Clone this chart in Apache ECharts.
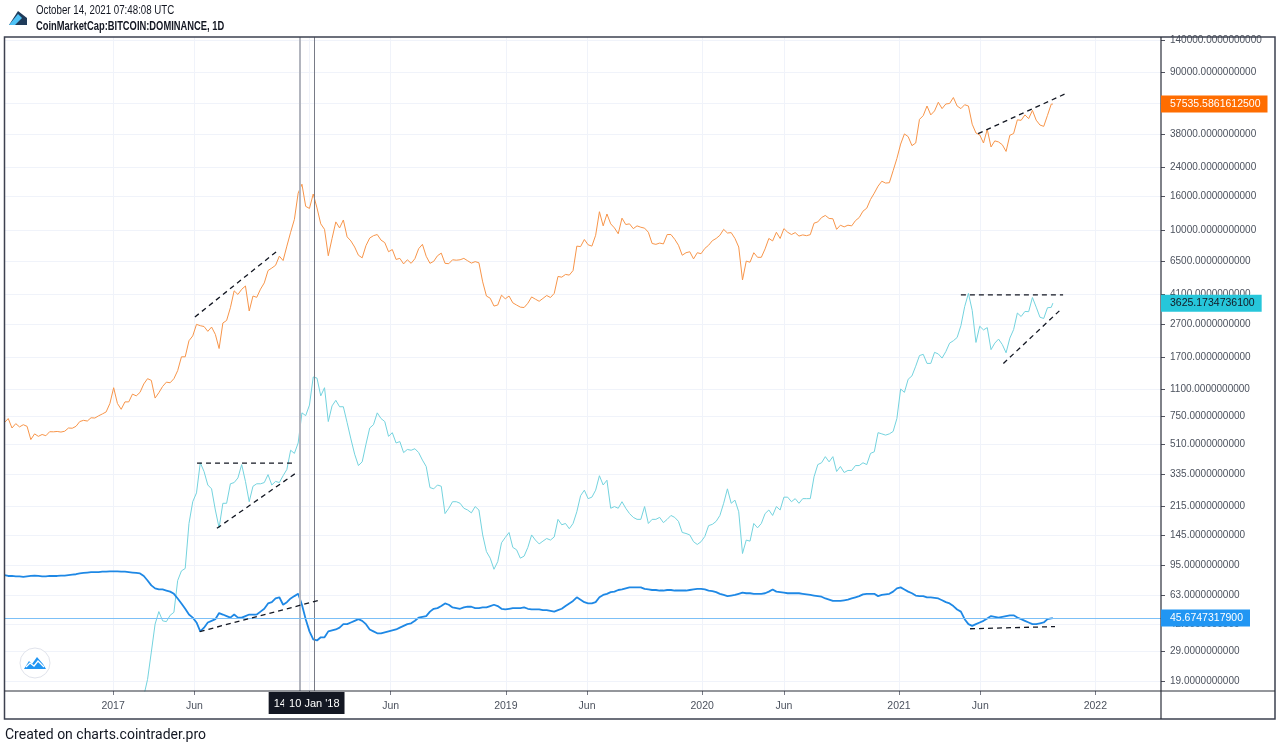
<!DOCTYPE html>
<html><head><meta charset="utf-8">
<script src="https://cdn.jsdelivr.net/npm/echarts@6/dist/echarts.min.js"></script>
<style>html,body{margin:0;padding:0;background:#fff;}#chart{width:1280px;height:748px;}</style>
</head><body><div id="chart"></div>
<script>
// ---------- DATA (weekly samples, Mondays) ----------
const yearStarts = ['2016-06-13','2017-01-02','2018-01-01','2019-01-07','2020-01-06','2021-01-04'];
const btc2016 = [690,730,640,680,650,670,655,545,590,570,585,575,608,607,610,605,612,640,638,655,700,712,705,738,735,758,778,800,900];
const btc2017 = [1120,900,830,920,920,1025,1000,1050,1180,1270,1240,970,1045,1140,1210,1200,1270,1420,1720,1720,2150,2300,2700,2650,2620,2450,2600,2350,1930,2750,2850,3400,4300,4090,4390,4600,3250,4000,3930,4400,4800,5700,5900,6130,6960,6550,8000,9700,11600,16700,18900,13900];
const btc2018 = [13500,16500,13600,10900,10100,7000,8900,11200,10300,11500,9100,8600,7900,7050,6800,8050,8950,9250,9400,8700,8400,7400,7630,6650,6750,6250,6620,6300,6720,7720,8200,6950,6300,6480,7000,7260,6300,6270,6620,6580,6620,6750,6530,6320,6450,6350,4870,4000,3880,3480,3530,4050,3850];
const btc2019 = [4000,3640,3530,3430,3410,3620,3950,3830,3720,3870,4030,3920,4150,5250,5200,5400,5350,5700,8000,7950,8770,8150,8000,9300,12900,10600,12500,10900,10300,9500,11800,10800,10900,10200,10600,10400,10270,9700,8300,8200,8350,8250,9400,9400,8800,8100,7050,7300,7400,6700,7300,7200];
const btc2020 = [7750,8100,8630,8900,9300,10100,9600,9650,8900,7900,5000,6500,6400,7300,6850,6850,7700,8900,8600,9700,8900,10200,9700,9400,9650,9200,9350,9250,9380,11000,11200,11900,12250,11750,11700,10100,10700,10450,10700,10600,11400,11900,13000,13550,15300,16700,18400,19700,19200,19300,22800,27000];
const btc2021 = [33000,38000,36600,32300,33500,46500,49000,56000,49500,52300,59000,54000,57600,58000,63000,56000,54000,57000,56000,43500,38500,37500,33500,40500,31700,34500,34000,32700,29800,37300,38200,46200,45900,49500,47000,52700,46000,43000,42200,49200,57500];

const eth2017 = [9.7,10.3,9.7,10.7,10.7,11.3,12.9,12.7,15.5,19.5,28.5,42,50,44,43.5,47.5,49.5,77,88,91,170,230,260,395,350,290,275,205,160,225,225,295,300,320,385,305,230,285,295,295,300,335,290,305,300,330,360,470,450,520,790,760];
const eth2018 = [880,1300,1280,1000,1120,700,870,940,860,860,690,550,445,380,400,510,640,670,790,730,700,570,600,520,530,455,475,470,480,455,410,375,280,275,290,285,195,210,230,230,225,210,205,197,215,205,145,115,105,90,100,130,140];
const eth2019 = [150,122,118,105,108,122,145,135,128,133,138,135,141,180,167,170,158,170,200,250,270,240,245,270,330,290,310,210,215,210,230,210,195,185,180,180,215,170,180,180,185,172,180,190,185,175,150,148,145,132,127,132];
const eth2020 = [142,165,168,175,190,225,275,225,235,200,112,135,133,170,160,170,195,205,190,215,205,245,245,230,240,225,240,240,240,325,385,395,430,400,430,350,375,345,355,355,380,380,395,385,450,460,600,590,580,590,610,730];
const eth2021 = [1100,1050,1260,1320,1510,1750,1780,1570,1570,1830,1790,1690,1850,2080,2150,2250,2650,3450,4150,3280,2100,2630,2500,2580,1900,2080,2200,2040,1820,2230,2510,3160,3010,3230,3220,3920,3430,2980,2930,3400,3420];

const dom2016 = [83,82,82,81.5,81.5,81,81.5,82,82.5,82,81.5,81.5,82,82,82,82.5,82.5,83,83.5,84,85,85.5,86,86.5,86.5,86.5,87,87,87.5];
const dom2017 = [87.5,87.5,87,87,86.5,86,85.5,85,82,77,72,69,68,68,67,66,64,60,56,52,48,46,43,38,40,43,44,45,49,48,47,46,48,46,46,47,48,48,48,50,52,56,57,60,61,55,57,60,62,64,55,45];
const dom2018 = [38,34,33.5,35,35,38,38.5,39,40,42,42,43,44,45,44,42,39,38,37,37,37.5,38,38.5,39,40,41,42,42.5,44,46,46.5,47,50,52,52.5,54,56,55,53,52.5,52,53,53.5,53.5,52.5,52.5,53,53,54,55,54,52,51.5];
const dom2019 = [52,52.5,52.5,52.5,53,52,51.5,51.5,51.5,51,51,50.5,50,51,52,54,56,58,61,59,57,56,56,57,61,63,64,65.5,66,67.5,68,69,70,70,70,70,68.5,68,67.5,67.5,67,67,67.5,67.5,67,67,67,67,67.5,68,68.5,68.5];
const dom2020 = [68,67,66.5,65.5,64,63,62,62.5,63,64,65,64.5,64.5,64,64,64,64.5,66,68,66,65.5,65,64.5,64.5,64.5,64.5,64,63.5,63,62.5,62,61.5,60,59,58,58,58,58.5,59,60,61,62,63.5,64,64,64,62,63,63.5,64,66,69];
const dom2021 = [70,68,66,64.5,62.5,62,62,61,61,60.5,60,58.5,57,56,54,51.5,50,45,42,41,42,43,44,45.5,47,46.5,46,46.5,47,47.5,47.5,46,45,44,43,42,42,42.5,43,45,45.5];

const lastDate = '2021-10-14';
const btcLast = 57535.5861612500;
const ethLast = 3625.1734736100;
const domLast = 45.6747317900;

// trend lines drawn on the chart (date, value)
const trendBtc2017    = [['2017-06-02', 2990], ['2017-11-02', 7470]];
const trendEthTop2017 = [['2017-06-06', 393],  ['2017-12-01', 393]];
const trendEthLow2017 = [['2017-07-13', 159],  ['2017-12-05', 339]];
const trendDom2017    = [['2017-06-11', 37.9], ['2018-01-21', 58.7]];
const trendBtc2021    = [['2021-05-28', 38150],['2021-11-10', 67230]];
const trendEthTop2021 = [['2021-04-26', 4067], ['2021-11-02', 4067]];
const trendEthLow2021 = [['2021-07-14', 1569], ['2021-10-26', 3256]];
const trendDom2021    = [['2021-05-13', 39.4], ['2021-10-18', 40.6]];

const crossDates  = ['2017-12-14', '2018-01-10'];
const crossLabels = ["14 Dec '17", "10 Jan '18"];

const xTickDates  = ['2017-01-01','2017-06-01','2018-01-01','2018-06-01','2019-01-01','2019-06-01','2020-01-01','2020-06-01','2021-01-01','2021-06-01','2022-01-01'];
const xTickLabels = ['2017','Jun','2018','Jun','2019','Jun','2020','Jun','2021','Jun','2022'];
const yTicks = [140000,90000,58000,38000,24000,16000,10000,6500,4100,2700,1700,1100,750,510,335,215,145,95,63,42,29,19];

const X_MIN = '2016-06-14', X_MAX = '2022-05-03';
const Y_MIN = 16.6, Y_MAX = 146000;

// ---------- BUILD ----------
function dayTs(s){ const [y,m,d]=s.split('-').map(Number); return Date.UTC(y,m-1,d); }
function weekly(start, vals){ const [y,m,d]=start.split('-').map(Number); return vals.map((v,i)=>[Date.UTC(y,m-1,d+7*i), v]); }
const btcData = [].concat(weekly(yearStarts[0],btc2016),weekly(yearStarts[1],btc2017),weekly(yearStarts[2],btc2018),weekly(yearStarts[3],btc2019),weekly(yearStarts[4],btc2020),weekly(yearStarts[5],btc2021),[[dayTs(lastDate),btcLast]]);
const ethData = [].concat(weekly(yearStarts[1],eth2017),weekly(yearStarts[2],eth2018),weekly(yearStarts[3],eth2019),weekly(yearStarts[4],eth2020),weekly(yearStarts[5],eth2021),[[dayTs(lastDate),ethLast]]);
const domData = [].concat(weekly(yearStarts[0],dom2016),weekly(yearStarts[1],dom2017),weekly(yearStarts[2],dom2018),weekly(yearStarts[3],dom2019),weekly(yearStarts[4],dom2020),weekly(yearStarts[5],dom2021),[[dayTs(lastDate),domLast]]);

const FONT = '"Liberation Sans", Arial, sans-serif';
const C_BTC = '#f7954a', C_ETH = '#74d3de', C_DOM = '#1e88e5';
const xTickTs = xTickDates.map(dayTs);

function trend(pts){
  return { type:'line', data: pts.map(p=>[dayTs(p[0]), p[1]]), symbol:'none', silent:true, z:10,
    lineStyle:{ color:'#131722', width:1.3, type:[5,4] }, animation:false };
}

const chart = echarts.init(document.getElementById('chart'), null, {renderer:'canvas'});
const option = {
  animation:false,
  backgroundColor:'#ffffff',
  grid:{ left:5, right:119, top:37, bottom:57 },
  xAxis:{
    type:'value', min: dayTs(X_MIN), max: dayTs(X_MAX), scale:true,
    axisLine:{show:false},
    axisTick:{show:true, length:4, lineStyle:{color:'#787b86'}, customValues: xTickTs},
    axisLabel:{ customValues: xTickTs, color:'#4c525e', fontSize:10.5, fontFamily:FONT, margin:10,
      formatter:(v)=>{ const i = xTickTs.indexOf(v); return i>=0 ? xTickLabels[i] : ''; } },
    splitLine:{show:true, lineStyle:{color:'#f0f3fa', width:1}}
  },
  yAxis:{
    type:'log', logBase:10, position:'right', min:Y_MIN, max:Y_MAX,
    axisLine:{show:false},
    axisTick:{show:true, length:4, lineStyle:{color:'#50535e'}, customValues: yTicks},
    axisLabel:{ customValues: yTicks, color:'#4c525e', fontSize:10, fontFamily:FONT, margin:9,
      formatter:(v)=>Number(v).toFixed(10) },
    splitLine:{show:true, lineStyle:{color:'#f0f3fa', width:1}}
  },
  series:[
    { name:'BTC', type:'line', data:btcData, symbol:'none', lineStyle:{color:C_BTC, width:1}, itemStyle:{color:C_BTC}, z:3 },
    { name:'ETH', type:'line', data:ethData, symbol:'none', lineStyle:{color:C_ETH, width:1}, itemStyle:{color:C_ETH}, z:3 },
    { name:'Dominance', type:'line', data:domData, symbol:'none', lineStyle:{color:C_DOM, width:1.8}, itemStyle:{color:C_DOM}, z:4,
      markLine:{ silent:true, symbol:'none', label:{show:false}, animation:false,
        data:[
          { xAxis: dayTs(crossDates[0]), lineStyle:{color:'#b2b5be', width:2, type:'solid'} },
          { xAxis: dayTs(crossDates[1]), lineStyle:{color:'#787b86', width:1, type:'solid'} },
          { yAxis: domLast, lineStyle:{color:'#7cc0f7', width:1, type:'solid'} }
        ] } },
    trend(trendBtc2017), trend(trendEthTop2017), trend(trendEthLow2017), trend(trendDom2017),
    trend(trendBtc2021), trend(trendEthTop2021), trend(trendEthLow2021), trend(trendDom2021)
  ]
};
chart.setOption(option);

// ---------- overlays positioned through the chart's own scales ----------
const px = d => chart.convertToPixel({xAxisIndex:0}, dayTs(d));
const py = v => chart.convertToPixel({yAxisIndex:0}, v);
const AX = 1161;

function priceBox(v, bg, fg){
  return { type:'text', x:AX, y:py(v), z:200,
    style:{ text:v.toFixed(10), fill:fg, backgroundColor:bg, padding:[3,7,2,9], lineHeight:12,
      fontSize:10.5, fontFamily:FONT, verticalAlign:'middle', align:'left' } };
}
function crossBox(d, t){
  return { type:'text', x:px(d), y:692, z:210,
    style:{ text:t, fill:'#ffffff', backgroundColor:'#131722', padding:[5,5,4,5], lineHeight:13,
      fontSize:11, fontFamily:FONT, verticalAlign:'top', align:'center' } };
}

const graphics = [
  { type:'rect', shape:{x:4.5, y:37, width:1270.5, height:682}, style:{fill:'none', stroke:'#3d4150', lineWidth:1.5}, z:150, silent:true },
  { type:'line', shape:{x1:AX, y1:37, x2:AX, y2:719}, style:{stroke:'#2a2e39', lineWidth:1.2}, z:150, silent:true },
  { type:'line', shape:{x1:4.5, y1:691, x2:1275, y2:691}, style:{stroke:'#2a2e39', lineWidth:1.2}, z:150, silent:true },
  priceBox(btcLast, '#ff6d00', '#ffffff'),
  priceBox(ethLast, '#26c6da', '#131722'),
  priceBox(domLast, '#2196f3', '#ffffff'),
  crossBox(crossDates[0], crossLabels[0]),
  crossBox(crossDates[1], crossLabels[1]),
  { type:'polygon', shape:{points:[[9,25],[18,11],[27,18],[27,25]]}, style:{fill:'#1f3b5a'}, z:160 },
  { type:'polygon', shape:{points:[[9,25],[18,14],[22,18],[15,25]]}, style:{fill:'#4fc3f7'}, z:161 },
  { type:'text', x:36, y:11, scaleX:0.81, style:{ text:'October 14, 2021 07:48:08 UTC', fill:'#131722', fontSize:12, fontFamily:FONT, verticalAlign:'middle' }, z:160 },
  { type:'text', x:36, y:27, scaleX:0.78, style:{ text:'CoinMarketCap:BITCOIN:DOMINANCE, 1D', fill:'#131722', fontSize:12, fontWeight:'bold', fontFamily:FONT, verticalAlign:'middle' }, z:160 },
  { type:'text', x:5, y:735, style:{ text:'Created on charts.cointrader.pro', fill:'#131722', fontSize:14, fontFamily:'Roboto, sans-serif', verticalAlign:'middle' }, z:160 },
  { type:'circle', shape:{cx:35, cy:663, r:15}, style:{fill:'#ffffff', stroke:'#e0e3eb', lineWidth:1}, z:160 },
  { type:'polygon', shape:{points:[[24,669],[29,661],[32,664],[37,657],[43,664],[46,669]]}, style:{fill:'#2196f3'}, z:161 },
  { type:'polyline', shape:{points:[[26,667],[30,663],[34,666],[38,661],[44,667]]}, style:{stroke:'#ffffff', lineWidth:1.3, fill:'none'}, z:162 }
];
chart.setOption({ graphic: graphics });
</script></body></html>
